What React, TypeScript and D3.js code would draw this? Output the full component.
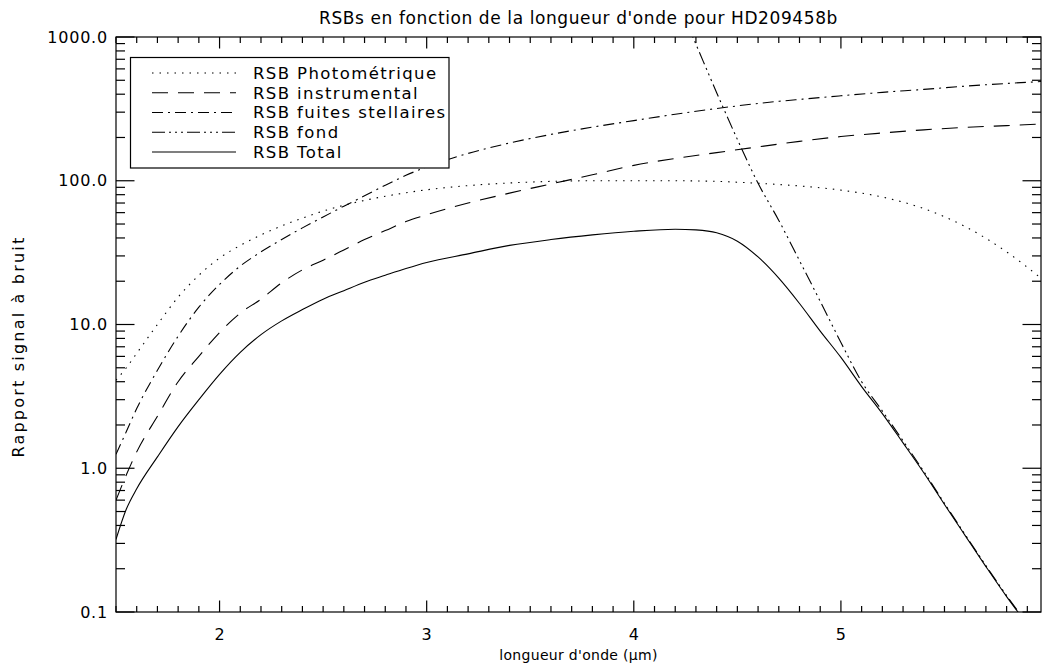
import React from "react";
import * as d3 from "d3";

const W = 1044;
const H = 668;

const titleText = "RSBs en fonction de la longueur d'onde pour HD209458b";
const xLabel = "longueur d'onde (\u00b5m)";
const yLabel = "Rapport signal \u00e0 bruit";

const xTicks = [2, 3, 4, 5];
const yTicks = [0.1, 1, 10, 100, 1000];
const yTickLabels = ["0.1", "1.0", "10.0", "100.0", "1000.0"];

const legendLabels = [
  "RSB Photom\u00e9trique",
  "RSB instrumental",
  "RSB fuites stellaires",
  "RSB fond",
  "RSB Total",
];

// wavelength grid shared by the smooth series
const lambdaGrid = [1.5, 1.55, 1.6, 1.7, 1.8, 1.9, 2.0, 2.1, 2.2, 2.3, 2.4, 2.5, 2.6, 2.7, 2.8, 2.9, 3.0, 3.2, 3.4, 3.6, 3.8, 4.0, 4.2, 4.4, 4.6, 4.8, 5.0, 5.2, 5.4, 5.6, 5.8, 5.966];

const photometrique = [4.1, 5.0, 6.3, 10, 15.5, 22, 29, 35.5, 42, 48.5, 55, 61.5, 67.5, 73, 78, 82.5, 86.5, 92.5, 96.5, 99, 100, 100, 100, 99, 96, 92, 86, 77, 64, 48, 32, 21];
const instrumental = [0.6, 0.9, 1.3, 2.3, 4.0, 6.0, 8.8, 12, 15, 19.5, 24, 28, 33, 39, 45, 52, 58, 70, 82, 95, 110, 128, 143, 157, 172, 188, 203, 215, 226, 235, 242, 248];
const fuites = [1.25, 1.8, 2.6, 4.8, 8.3, 13.2, 19, 25.5, 32, 39, 47, 56, 66.5, 78.5, 93, 109, 125, 155, 183, 210, 236, 262, 290, 318, 345, 368, 390, 412, 432, 455, 475, 490];

const fondLambda = [4.25, 4.3, 4.4, 4.5, 4.6, 4.7, 4.8, 4.9, 5.0, 5.1, 5.2, 5.3, 5.4, 5.5, 5.6, 5.7, 5.8, 5.9];
const fond = [1310, 890, 410, 194, 96, 53, 27.8, 14.5, 7.5, 4.0, 2.5, 1.55, 0.95, 0.57, 0.345, 0.21, 0.13, 0.083];

const totalLambda = [1.5, 1.55, 1.6, 1.7, 1.8, 1.9, 2.0, 2.1, 2.2, 2.3, 2.4, 2.5, 2.6, 2.7, 2.8, 2.9, 3.0, 3.2, 3.4, 3.6, 3.8, 4.0, 4.2, 4.3, 4.4, 4.5, 4.6, 4.7, 4.8, 4.9, 5.0, 5.1, 5.2, 5.3, 5.4, 5.5, 5.6, 5.7, 5.8, 5.9];
const total = [0.32, 0.52, 0.72, 1.2, 1.95, 3.0, 4.5, 6.4, 8.5, 10.6, 12.7, 15, 17.2, 19.7, 22, 24.5, 27, 31, 35.5, 39, 42, 44.5, 46, 45.5, 43.5, 38, 29.5, 21, 14, 9, 5.9, 3.7, 2.4, 1.5, 0.93, 0.56, 0.34, 0.207, 0.128, 0.082];

const dashStyles = ["1.5,6", "16,10", "11,5,2,5", "13,4,2,4,2,4,2,4", ""];

const FONT = "'DejaVu Sans', sans-serif";

export default function App() {
  const left = 116, right = 1041, top = 37, bottom = 612;
  const x = d3.scaleLinear().domain([1.5, 5.966]).range([left, right]);
  const y = d3.scaleLog().domain([0.1, 1000]).range([bottom, top]);

  const mk = (xs: number[], ys: number[]) =>
    d3.line<number>()
      .x((_, i) => x(xs[i]))
      .y((v) => y(v))
      .curve(d3.curveMonotoneX)(ys) || "";

  const series = [
    mk(lambdaGrid, photometrique),
    mk(lambdaGrid, instrumental),
    mk(lambdaGrid, fuites),
    mk(fondLambda, fond),
    mk(totalLambda, total),
  ];

  const xMajLen = 11.5, xMinLen = 6, yMajLen = 18.5, yMinLen = 9;
  const xMinor = d3.range(15, 60).map((v) => v / 10).filter((v) => Math.abs(v - Math.round(v)) > 1e-6);
  const yMinor: number[] = [];
  [0.1, 1, 10, 100].forEach((d) => { for (let k = 2; k <= 9; k++) yMinor.push(d * k); });

  const tickLines: JSX.Element[] = [];
  xTicks.forEach((t, i) => {
    const px = x(t);
    tickLines.push(<line key={"xb" + i} x1={px} x2={px} y1={bottom} y2={bottom - xMajLen} />);
    tickLines.push(<line key={"xt" + i} x1={px} x2={px} y1={top} y2={top + xMajLen} />);
  });
  xMinor.forEach((t, i) => {
    const px = x(t);
    tickLines.push(<line key={"xmb" + i} x1={px} x2={px} y1={bottom} y2={bottom - xMinLen} />);
    tickLines.push(<line key={"xmt" + i} x1={px} x2={px} y1={top} y2={top + xMinLen} />);
  });
  yTicks.forEach((t, i) => {
    const py = y(t);
    tickLines.push(<line key={"yl" + i} x1={left} x2={left + yMajLen} y1={py} y2={py} />);
    tickLines.push(<line key={"yr" + i} x1={right} x2={right - yMajLen} y1={py} y2={py} />);
  });
  yMinor.forEach((t, i) => {
    const py = y(t);
    tickLines.push(<line key={"yml" + i} x1={left} x2={left + yMinLen} y1={py} y2={py} />);
    tickLines.push(<line key={"ymr" + i} x1={right} x2={right - yMinLen} y1={py} y2={py} />);
  });

  const legX = 130.5, legY = 57.5, legW = 318.5, legH = 110.5;
  const rowY = (i: number) => 73 + i * 19.75;

  return (
    <svg width={W} height={H} style={{ position: "absolute", left: 0, top: 0, background: "#fff" }} fontFamily={FONT}>
      <rect x={0} y={0} width={W} height={H} fill="#fff" />
      <defs>
        <clipPath id="plotclip">
          <rect x={left} y={top} width={right - left} height={bottom - top} />
        </clipPath>
      </defs>
      <text x={(left + right) / 2} y={24} textAnchor="middle" fontSize={17} letterSpacing={0.6}>{titleText}</text>
      <g clipPath="url(#plotclip)" fill="none" stroke="#000" strokeWidth={1.1}>
        {series.map((d, i) => (
          <path key={i} d={d} strokeDasharray={dashStyles[i] || undefined} />
        ))}
      </g>
      <g stroke="#000" strokeWidth={1.2}>
        <rect x={left} y={top} width={right - left} height={bottom - top} fill="none" />
        {tickLines}
      </g>
      <g fontSize={16} fill="#000">
        {yTicks.map((t, i) => (
          <text key={i} x={108} y={y(t)} dy="0.35em" textAnchor="end" letterSpacing={0.8}>{yTickLabels[i]}</text>
        ))}
        {xTicks.map((t, i) => (
          <text key={i} x={x(t)} y={640} textAnchor="middle">{String(t)}</text>
        ))}
      </g>
      <text x={(left + right) / 2} y={660} textAnchor="middle" fontSize={14} letterSpacing={0.3}>{xLabel}</text>
      <text transform={`translate(24,${(top + bottom) / 2 + 22}) rotate(-90)`} textAnchor="middle" fontSize={16} letterSpacing={2.2}>{yLabel}</text>
      <g>
        <rect x={legX} y={legY} width={legW} height={legH} fill="#fff" stroke="#000" strokeWidth={1.2} />
        {legendLabels.map((lab, i) => (
          <g key={i}>
            <line x1={152} x2={236} y1={rowY(i)} y2={rowY(i)} stroke="#000" strokeWidth={1.1} strokeDasharray={dashStyles[i] || undefined} />
            <text x={253} y={rowY(i)} dy="0.36em" fontSize={16.5} letterSpacing={1.4}>{lab}</text>
          </g>
        ))}
      </g>
    </svg>
  );
}
